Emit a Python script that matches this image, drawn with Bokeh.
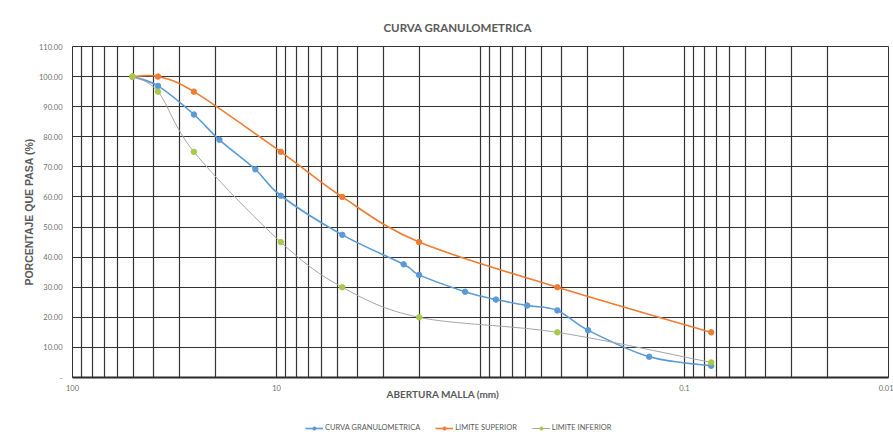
import numpy as np
from bokeh.plotting import figure
from bokeh.layouts import column
from bokeh.models import (Range1d, FixedTicker, CustomJSTickFormatter, Legend,
                          LegendItem, Title, ColumnDataSource)
from bokeh.embed import file_html
from bokeh.resources import INLINE

# Sieve openings (mm) and percent passing
mallas = [50.8, 38.1, 25.4, 19.05, 12.7, 9.525, 4.76, 2.38, 2.0, 1.19, 0.84, 0.59, 0.42, 0.297, 0.149, 0.074]
curva = [100.0, 96.9, 87.4, 79.0, 69.2, 60.4, 47.4, 37.6, 34.1, 28.5, 25.9, 23.9, 22.3, 15.7, 6.9, 3.9]

# Specification band
lim_mallas = [50.8, 38.1, 25.4, 9.525, 4.76, 2.0, 0.42, 0.074]
lim_sup = [100, 100, 95, 75, 60, 45, 30, 15]
lim_inf = [100, 95, 75, 45, 30, 20, 15, 5]

x_ticks = [100, 10, 1, 0.1, 0.01]
x_tick_labels = ["100", "10", "", "0.1", "0.01"]
y_ticks = list(range(0, 111, 10))

series_names = ["CURVA GRANULOMETRICA", "LIMITE SUPERIOR", "LIMITE INFERIOR"]

BLUE = "#5b9bd5"
ORANGE = "#ed7d31"
GRAY = "#a5a5a5"
GREEN = "#a9c94a"
GRID = "#333333"
TXT = "#595959"


def smooth_segments(xs, ys, t=1.0 / 6.0):
    """Cubic Bezier segments (Catmull-Rom style) in log-x space."""
    u = np.log10(np.asarray(xs, float))
    y = np.asarray(ys, float)
    up = np.concatenate([[u[0]], u, [u[-1]]])
    yp = np.concatenate([[y[0]], y, [y[-1]]])
    n = len(u)
    d = dict(x0=[], y0=[], x1=[], y1=[], cx0=[], cy0=[], cx1=[], cy1=[])
    for i in range(n - 1):
        u0, y0_ = up[i], yp[i]
        u1, y1_ = up[i + 1], yp[i + 1]
        u2, y2_ = up[i + 2], yp[i + 2]
        u3, y3_ = up[i + 3], yp[i + 3]
        d["x0"].append(10 ** u1); d["y0"].append(y1_)
        d["x1"].append(10 ** u2); d["y1"].append(y2_)
        d["cx0"].append(10 ** (u1 + (u2 - u0) * t)); d["cy0"].append(y1_ + (y2_ - y0_) * t)
        d["cx1"].append(10 ** (u2 - (u3 - u1) * t)); d["cy1"].append(y2_ - (y3_ - y1_) * t)
    return ColumnDataSource(d)


minor = [m * 10.0 ** e for e in (-2, -1, 0, 1) for m in range(2, 10)]

# ---- main chart ----
p = figure(width=893, height=411, x_axis_type="log",
           x_range=Range1d(100, 0.01), y_range=Range1d(0, 110),
           output_backend="svg", toolbar_location=None,
           min_border_left=72, min_border_right=5,
           min_border_top=46, min_border_bottom=34,
           background_fill_color="white", border_fill_color="white")

p.title.visible = False
p.add_layout(Title(text="CURVA GRANULOMETRICA", align="left", offset=311,
                   text_font="Lato", text_font_size="11.5px",
                   text_font_style="bold", text_color=TXT, standoff=26), "above")
p.add_layout(Title(text="PORCENTAJE QUE PASA (%)", align="center",
                   text_font="Liberation Sans", text_font_size="10.5px",
                   text_font_style="bold", text_color=TXT, standoff=1), "left")

p.xaxis.ticker = FixedTicker(ticks=x_ticks, minor_ticks=minor)
p.xaxis.formatter = CustomJSTickFormatter(
    args=dict(tvals=x_ticks, tlabels=x_tick_labels),
    code="""
    const i = tvals.findIndex(t => Math.abs(Math.log10(t) - Math.log10(tick)) < 1e-6);
    return i >= 0 ? tlabels[i] : "";
    """)
p.yaxis.ticker = FixedTicker(ticks=y_ticks)
p.yaxis.formatter = CustomJSTickFormatter(code="return tick == 0 ? '-' : tick.toFixed(2);")

for ax in (p.xaxis, p.yaxis):
    ax.major_tick_line_color = None
    ax.minor_tick_line_color = None
    ax.major_tick_out = 0
    ax.minor_tick_out = 0
    ax.major_label_text_font = "Lato"
    ax.major_label_text_font_size = "7.5px"
    ax.major_label_text_color = "#6f6f6f"
p.xaxis.major_label_standoff = 7
p.yaxis.major_label_standoff = 10
p.yaxis.axis_line_color = None
p.xaxis.axis_line_color = "#2a2a2a"
p.xaxis.axis_line_width = 2

p.xgrid.grid_line_color = GRID
p.xgrid.grid_line_width = 1.2
p.xgrid.minor_grid_line_color = GRID
p.xgrid.minor_grid_line_width = 1.2
p.ygrid.grid_line_color = GRID
p.ygrid.grid_line_width = 1.2
p.outline_line_color = GRID

p.add_layout(Title(text="ABERTURA MALLA (mm)", align="left", offset=314,
                   vertical_align="top",
                   text_font="Lato", text_font_size="10px",
                   text_font_style="bold", text_color=TXT, standoff=-12), "below")


def series(xs, ys, line_color, marker_color, width):
    src = smooth_segments(xs, ys)
    p.bezier(x0="x0", y0="y0", x1="x1", y1="y1", cx0="cx0", cy0="cy0",
             cx1="cx1", cy1="cy1", source=src, line_color=line_color, line_width=width)
    p.scatter(xs, ys, size=5.5, marker="circle", fill_color=marker_color,
              line_color=marker_color)


styles = [(BLUE, BLUE, 1.6), (ORANGE, ORANGE, 1.6), (GRAY, GREEN, 1.0)]
series(mallas, curva, *styles[0])
series(lim_mallas, lim_sup, *styles[1])
series(lim_mallas, lim_inf, *styles[2])

# ---- legend strip under the chart ----
leg = figure(width=893, height=30, x_range=Range1d(0, 1), y_range=Range1d(0, 1),
             output_backend="svg", toolbar_location=None,
             min_border_left=0, min_border_right=0, min_border_top=0, min_border_bottom=0,
             background_fill_color="white", border_fill_color="white")
leg.title.visible = False
leg.axis.visible = False
leg.grid.visible = False
leg.outline_line_color = None

# legend keys: one off-screen sample per series so the key glyphs get drawn
items = []
for name, (lc, mc, w) in zip(series_names, styles):
    ln = leg.line([-5, -4], [-5, -4], line_color=lc, line_width=w)
    mk = leg.scatter([-5], [-5], size=5, marker="circle", fill_color=mc, line_color=mc)
    items.append(LegendItem(label=name, renderers=[ln, mk]))

legend = Legend(items=items, orientation="horizontal", location=(233, 9),
                glyph_width=18, glyph_height=8, label_height=8,
                label_standoff=2, spacing=15, padding=0, margin=0,
                label_text_font="Lato", label_text_font_size="7.5px",
                label_text_color=TXT, border_line_color=None,
                background_fill_alpha=0)
leg.add_layout(legend, "center")

page = column(p, leg)
open("out.html", "w").write(file_html(page, INLINE))
